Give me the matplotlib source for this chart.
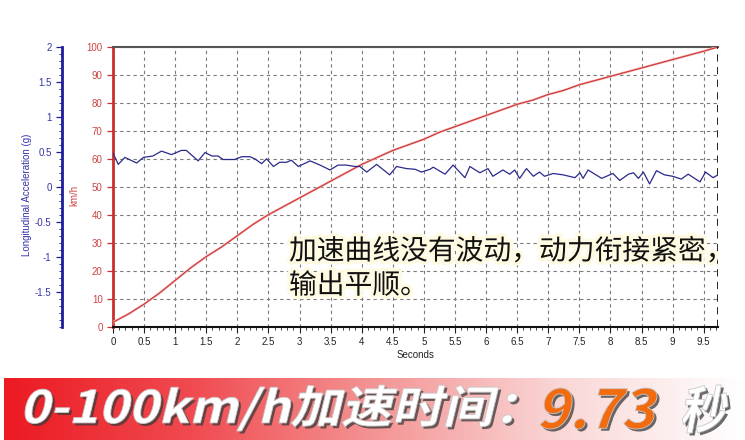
import matplotlib
matplotlib.use('Agg')
import matplotlib.pyplot as plt
import matplotlib.patheffects as pe
import numpy as np
from matplotlib.ticker import MultipleLocator
from matplotlib.textpath import TextPath
from matplotlib.patches import PathPatch
from matplotlib.font_manager import FontProperties
from matplotlib.transforms import Affine2D, IdentityTransform

plt.rcParams['font.family'] = ['Liberation Sans', 'DejaVu Sans']

# speed trace (km/h)
t_speed = [0, 0.25, 0.5, 0.75, 1.0, 1.25, 1.5, 1.75, 2.0, 2.25, 2.5, 2.75, 3.0, 3.25,
           3.5, 3.75, 4.0, 4.25, 4.5, 4.75, 5.0, 5.25, 5.5, 5.75, 6.0, 6.25, 6.5, 6.75,
           7.0, 7.25, 7.5, 7.75, 8.0, 8.25, 8.5, 8.75, 9.0, 9.25, 9.5, 9.73]
speed = [1.5, 4.5, 8, 12, 16.5, 21, 25, 28.5, 32.5, 36.5, 40, 43, 46, 49,
         52, 55, 58, 60.5, 63, 65, 67, 69.5, 71.5, 73.5, 75.5, 77.5, 79.5, 81,
         83, 84.5, 86.5, 88, 89.5, 91, 92.5, 94, 95.5, 97, 98.5, 100]

# longitudinal acceleration (g)
t_acc = [0.0, 0.085, 0.19, 0.38, 0.49, 0.64, 0.78, 0.94, 1.10, 1.18, 1.37, 1.48, 1.59,
         1.69, 1.77, 1.96, 2.07, 2.2, 2.28, 2.39, 2.47, 2.58, 2.68, 2.79, 2.87, 2.98,
         3.17, 3.33, 3.49, 3.62, 3.75, 3.89, 3.97, 4.08, 4.24, 4.45, 4.56, 4.72, 4.86,
         4.96, 5.1, 5.15, 5.34, 5.47, 5.66, 5.74, 5.9, 6.03, 6.11, 6.27, 6.38, 6.46,
         6.54, 6.65, 6.76, 6.86, 6.94, 7.08, 7.24, 7.43, 7.51, 7.56, 7.64, 7.86, 8.04,
         8.15, 8.29, 8.37, 8.45, 8.53, 8.63, 8.74, 8.87, 9.0, 9.14, 9.25, 9.44, 9.53,
         9.65, 9.73]
acc = [0.48, 0.32, 0.42, 0.34, 0.42, 0.44, 0.51, 0.46, 0.52, 0.52, 0.37, 0.49, 0.44,
       0.44, 0.39, 0.39, 0.43, 0.43, 0.40, 0.33, 0.40, 0.29, 0.35, 0.35, 0.38, 0.29,
       0.37, 0.31, 0.24, 0.31, 0.31, 0.29, 0.29, 0.21, 0.32, 0.17, 0.29, 0.26, 0.25,
       0.21, 0.25, 0.28, 0.18, 0.31, 0.13, 0.29, 0.20, 0.26, 0.15, 0.24, 0.18, 0.24,
       0.12, 0.26, 0.15, 0.21, 0.15, 0.19, 0.17, 0.13, 0.20, 0.12, 0.24, 0.12, 0.19,
       0.09, 0.18, 0.20, 0.12, 0.21, 0.04, 0.23, 0.17, 0.15, 0.11, 0.18, 0.07, 0.21,
       0.13, 0.17]

x_ticks = np.arange(0, 10, 0.5)
x_labels = ['0', '0.5', '1', '1.5', '2', '2.5', '3', '3.5', '4', '4.5', '5', '5.5',
            '6', '6.5', '7', '7.5', '8', '8.5', '9', '9.5']
speed_ticks = list(range(0, 101, 10))
acc_ticks = [-1.5, -1, -0.5, 0, 0.5, 1, 1.5, 2]
acc_labels = ['-1.5', '-1', '-0.5', '0', '0.5', '1', '1.5', '2']

note = '加速曲线没有波动，动力衔接紧密，\n输出平顺。'
banner_a = '0-100km/h加速时间：'
banner_b = '9.73'
banner_c = '秒'

RED = '#c8302e'
BLUE = '#1c1c9a'
W, H = 745, 440

fig = plt.figure(figsize=(W/100, H/100), dpi=100)
ax = fig.add_axes([113/W, 1-326.5/H, 605/W, 279.5/H])

ax.plot(t_speed, speed, color='#f6c8c8', lw=1.8, zorder=3)
ax.plot(t_speed, speed, color='#d03a3a', lw=0.9, zorder=4)
ax.set_xlim(0, 9.73)
ax.set_ylim(0, 100)
ax.set_xticks(x_ticks)
ax.set_xticklabels(x_labels)
ax.xaxis.set_minor_locator(MultipleLocator(0.1))
ax.set_yticks(speed_ticks)
ax.grid(True, which='major', color='#7a7a7a', ls=(0, (3, 3)), lw=0.8)
ax.tick_params(axis='x', labelsize=7, colors='#222222', length=4, width=0.8)
ax.tick_params(axis='x', which='minor', length=2, width=0.6, colors='#222222')
ax.tick_params(axis='y', labelsize=7, colors=RED, labelcolor='#d04444', length=4, width=0.9)
ax.spines['left'].set_color(RED)
ax.spines['left'].set_linewidth(2)
ax.spines['top'].set_color('#555555')
ax.spines['top'].set_linewidth(1.5)
ax.spines['bottom'].set_color('#111111')
ax.spines['bottom'].set_linewidth(1.5)
ax.spines['right'].set_visible(False)
ax.axvline(9.73, color='#111111', lw=1.3, ls=(0, (4, 3)), zorder=5)
ax.set_xlabel('Seconds', fontsize=7, color='#222222', labelpad=2)
ax.set_ylabel('km/h', fontsize=7, color='#d04444')
ax.yaxis.set_label_coords(-0.055, 0.47)

ax2 = ax.twinx()
ax2.plot(t_acc, acc, color='#2a2a8c', lw=0.9, zorder=4)
ax2.set_ylim(-2, 2)
ax2.yaxis.set_ticks_position('left')
ax2.yaxis.set_label_position('left')
ax2.spines['left'].set_position(('outward', 51*72/100))
ax2.spines['left'].set_color(BLUE)
ax2.spines['left'].set_linewidth(2)
for s in ['right', 'top', 'bottom']:
    ax2.spines[s].set_visible(False)
ax2.set_yticks(acc_ticks)
ax2.set_yticklabels(acc_labels)
ax2.yaxis.set_minor_locator(MultipleLocator(0.1))
ax2.tick_params(axis='y', labelsize=7, colors=BLUE, labelcolor='#3535a8', length=4, width=0.9)
ax2.tick_params(axis='y', which='minor', length=2, width=0.6, colors=BLUE)
ax2.set_ylabel('Longitudinal Acceleration (g)', fontsize=7, color='#3535a8')
ax2.yaxis.set_label_coords(-0.134, 0.47)

fig.text(289/W, 1-268.5/H, note, fontsize=20, color='#111111',
         family=['Noto Sans CJK SC', 'DejaVu Sans'], va='center', ha='left',
         linespacing=1.18,
         path_effects=[pe.withStroke(linewidth=5, foreground='#fffbe2')], zorder=10)

# banner with red-to-white gradient
bax = fig.add_axes([4/W, 0, 741/W, 62/H])
grad = np.linspace(0, 1, 256)
cmap = matplotlib.colors.LinearSegmentedColormap.from_list(
    'banner', ['#ec1a22', '#f04a50', '#f49494', '#fad6d6', '#ffffff'])
bax.imshow(grad[np.newaxis, :], aspect='auto', cmap=cmap, extent=[0, 1, 0, 1])
bax.set_axis_off()

bold_cjk = FontProperties(family='Noto Sans CJK SC', weight='bold')


def banner_text(s, x0, x1, ytop, ybot, color):
    # italic, fitted glyph outlines placed in pixel coordinates
    path = TextPath((0, 0), s, size=50, prop=bold_cjk)
    path = Affine2D().skew_deg(12, 0).transform_path(path)
    ext = path.get_extents()
    tr = (Affine2D().translate(-ext.x0, -ext.y0)
          .scale((x1 - x0) / ext.width, (ybot - ytop) / ext.height)
          .translate(x0, H - ybot))
    p = tr.transform_path(path)
    shadow = PathPatch(p, transform=Affine2D().translate(2.5, -2.5) + IdentityTransform(),
                       fc='#3a3a3a', ec='none', alpha=0.75)
    body = PathPatch(p, transform=IdentityTransform(), fc=color, ec='#c8c8c8', lw=0.6)
    fig.add_artist(shadow)
    fig.add_artist(body)


banner_text(banner_a, 25, 517, 385, 431, 'white')
banner_text(banner_b, 540, 657, 388, 429, '#f26b0f')
banner_text(banner_c, 682, 728, 385, 433, 'white')

fig.savefig('out.png', dpi=100)
